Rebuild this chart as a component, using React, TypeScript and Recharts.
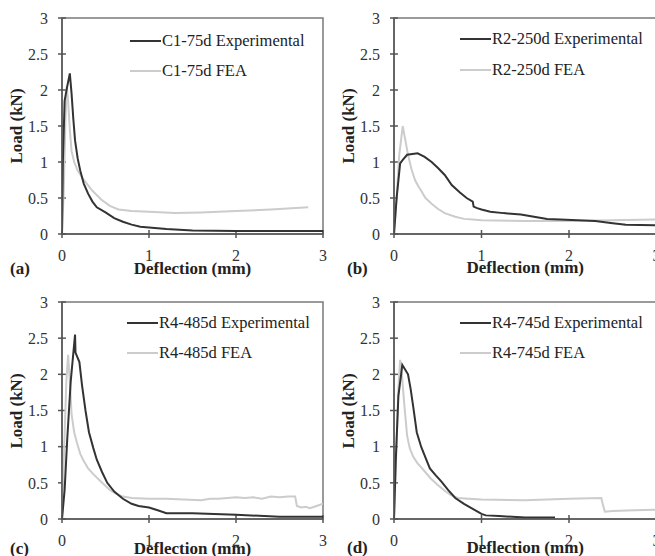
import React from 'react';
import { LineChart, Line, XAxis, YAxis, ReferenceArea, ReferenceLine } from 'recharts';

const FONT = '"Liberation Serif", "Times New Roman", serif';

const xTicks = [0, 1, 2, 3];
const yTicks = [0, 0.5, 1, 1.5, 2, 2.5, 3];

const seriesNames = {
  a: ['C1-75d Experimental', 'C1-75d FEA'],
  b: ['R2-250d Experimental', 'R2-250d FEA'],
  c: ['R4-485d Experimental', 'R4-485d FEA'],
  d: ['R4-745d Experimental', 'R4-745d FEA'],
};

// [deflection (mm), load (kN)]
const aExp = [[0,0],[0.01,1.0],[0.03,1.85],[0.06,2.05],[0.09,2.23],[0.11,1.95],[0.13,1.6],[0.15,1.3],[0.18,1.05],[0.21,0.88],[0.25,0.7],[0.3,0.56],[0.35,0.45],[0.4,0.37],[0.5,0.3],[0.6,0.22],[0.7,0.17],[0.8,0.13],[0.9,0.1],[1.0,0.09],[1.2,0.07],[1.5,0.05],[2.0,0.04],[2.5,0.04],[3.0,0.04]];
const aFea = [[0,0],[0.02,0.6],[0.04,1.6],[0.055,2.05],[0.07,1.85],[0.09,1.45],[0.11,1.15],[0.14,1.0],[0.18,0.88],[0.25,0.75],[0.35,0.6],[0.45,0.48],[0.55,0.39],[0.65,0.34],[0.8,0.32],[1.0,0.31],[1.3,0.29],[1.6,0.3],[2.0,0.32],[2.4,0.34],[2.83,0.37]];

const bExp = [[0,0],[0.03,0.5],[0.07,0.98],[0.1,1.03],[0.15,1.1],[0.27,1.12],[0.35,1.07],[0.43,1.0],[0.5,0.92],[0.58,0.82],[0.66,0.68],[0.75,0.58],[0.83,0.5],[0.9,0.45],[0.91,0.38],[0.95,0.36],[1.0,0.34],[1.1,0.31],[1.25,0.29],[1.45,0.27],[1.6,0.24],[1.75,0.21],[1.9,0.2],[2.1,0.19],[2.3,0.18],[2.5,0.15],[2.65,0.13],[3.0,0.12]];
const bFea = [[0,0],[0.03,0.5],[0.06,1.1],[0.1,1.5],[0.13,1.3],[0.16,1.1],[0.2,0.9],[0.24,0.75],[0.28,0.66],[0.31,0.6],[0.36,0.5],[0.43,0.42],[0.5,0.35],[0.58,0.29],[0.7,0.24],[0.8,0.21],[0.9,0.2],[1.0,0.19],[1.5,0.18],[2.0,0.18],[2.5,0.19],[3.0,0.2]];

const cExp = [[0,0],[0.03,0.4],[0.06,1.1],[0.1,1.9],[0.15,2.55],[0.155,2.3],[0.2,2.17],[0.23,1.85],[0.27,1.5],[0.31,1.2],[0.36,0.98],[0.4,0.82],[0.46,0.65],[0.52,0.5],[0.6,0.38],[0.7,0.28],[0.8,0.21],[0.88,0.18],[1.0,0.16],[1.1,0.12],[1.2,0.08],[1.5,0.08],[2.0,0.06],[2.5,0.03],[3.0,0.03]];
const cFea = [[0,0],[0.02,0.8],[0.05,1.9],[0.07,2.27],[0.09,1.9],[0.11,1.45],[0.14,1.2],[0.17,1.06],[0.21,0.9],[0.25,0.8],[0.3,0.7],[0.36,0.62],[0.42,0.55],[0.48,0.48],[0.55,0.4],[0.62,0.35],[0.7,0.31],[0.8,0.29],[1.0,0.28],[1.2,0.28],[1.4,0.27],[1.6,0.26],[1.7,0.28],[1.8,0.28],[1.9,0.29],[2.0,0.3],[2.1,0.29],[2.2,0.3],[2.3,0.28],[2.4,0.31],[2.5,0.3],[2.6,0.31],[2.68,0.31],[2.7,0.18],[2.75,0.16],[2.8,0.17],[2.85,0.15],[2.9,0.17],[2.95,0.19],[3.0,0.21]];

const dExp = [[0,0],[0.02,0.8],[0.05,1.7],[0.095,2.13],[0.12,2.08],[0.16,2.0],[0.19,1.8],[0.22,1.55],[0.26,1.2],[0.31,1.0],[0.36,0.85],[0.41,0.7],[0.48,0.6],[0.54,0.52],[0.62,0.4],[0.7,0.29],[0.8,0.21],[0.9,0.14],[1.0,0.07],[1.05,0.05],[1.2,0.04],[1.5,0.02],[1.84,0.02]];
const dFea = [[0,0],[0.02,0.7],[0.05,1.8],[0.07,2.2],[0.09,2.0],[0.12,1.55],[0.15,1.15],[0.18,0.98],[0.22,0.86],[0.27,0.77],[0.35,0.66],[0.42,0.56],[0.5,0.47],[0.58,0.39],[0.65,0.33],[0.73,0.29],[0.85,0.28],[1.0,0.27],[1.5,0.26],[2.0,0.28],[2.37,0.29],[2.38,0.23],[2.41,0.1],[2.5,0.11],[2.75,0.12],[3.0,0.13]];

const toRows = (pts: number[][]) => pts.map(([x, y]) => ({ x, y }));

const EXP_COLOR = '#333333';
const FEA_COLOR = '#cccccc';
const AXIS_COLOR = '#555555';

type PanelProps = {
  left: number; top: number; plotW: number; plotH: number;
  tag: string; names: string[]; exp: number[][]; fea: number[][];
  legendX: number; legendY1: number; legendY2: number;
  tagX: number; tagY: number; titleY: number;
};

function Panel(p: PanelProps) {
  const W = 330, H = 280;
  const margin = { top: 18, left: 22, right: W - 62 - p.plotW, bottom: H - 18 - p.plotH - 30 };
  const textStyle: React.CSSProperties = { position: 'absolute', fontFamily: FONT, whiteSpace: 'nowrap', lineHeight: 1, color: '#222' };
  return (
    <div style={{ position: 'absolute', left: p.left, top: p.top, width: W, height: H }}>
      <LineChart width={W} height={H} margin={margin}>
        <XAxis type="number" dataKey="x" domain={[0, 3]} ticks={xTicks} interval={0} height={30}
          tickSize={4} tickMargin={12}
          axisLine={{ stroke: AXIS_COLOR, strokeWidth: 1.5 }} tickLine={{ stroke: AXIS_COLOR, strokeWidth: 1.5 }}
          tick={{ fill: '#333', fontSize: 16, fontFamily: FONT }} allowDataOverflow />
        <YAxis type="number" domain={[0, 3]} ticks={yTicks} interval={0} width={40}
          tickSize={4} tickMargin={10}
          axisLine={{ stroke: AXIS_COLOR, strokeWidth: 1.5 }} tickLine={{ stroke: AXIS_COLOR, strokeWidth: 1.5 }}
          tick={{ fill: '#333', fontSize: 16, fontFamily: FONT }} allowDataOverflow />
        <ReferenceArea x1={0} x2={3} y1={0} y2={3} fill="none" stroke="#7a7a7a" strokeWidth={1.5} />
        {xTicks.map((v) => (
          <ReferenceLine key={'xt' + v} segment={[{ x: v, y: 0 }, { x: v, y: 0.055 }]} stroke={AXIS_COLOR} strokeWidth={1.5} />
        ))}
        {yTicks.map((v) => (
          <ReferenceLine key={'yt' + v} segment={[{ x: 0, y: v }, { x: 0.045, y: v }]} stroke={AXIS_COLOR} strokeWidth={1.5} />
        ))}
        <Line data={toRows(p.fea)} dataKey="y" type="linear" stroke={FEA_COLOR} strokeWidth={2} dot={false} isAnimationActive={false} />
        <Line data={toRows(p.exp)} dataKey="y" type="linear" stroke={EXP_COLOR} strokeWidth={2} dot={false} isAnimationActive={false} />
      </LineChart>
      <div style={{ position: 'absolute', left: p.legendX, top: p.legendY1 - 1, width: 31, height: 2, background: EXP_COLOR }} />
      <div style={{ ...textStyle, left: p.legendX + 32, top: p.legendY1, transform: 'translateY(-50%)', fontSize: 16.5 }}>{p.names[0]}</div>
      <div style={{ position: 'absolute', left: p.legendX, top: p.legendY2 - 1, width: 31, height: 2, background: FEA_COLOR }} />
      <div style={{ ...textStyle, left: p.legendX + 32, top: p.legendY2, transform: 'translateY(-50%)', fontSize: 16.5 }}>{p.names[1]}</div>
      <div style={{ ...textStyle, left: 62 + p.plotW / 2, top: p.titleY, transform: 'translate(-50%,-50%)', fontSize: 17, fontWeight: 'bold' }}>Deflection (mm)</div>
      <div style={{ ...textStyle, left: 16, top: 18 + p.plotH / 2, transform: 'translate(-50%,-50%) rotate(-90deg)', fontSize: 17, fontWeight: 'bold' }}>Load (kN)</div>
      <div style={{ ...textStyle, left: p.tagX, top: p.tagY, transform: 'translateY(-50%)', fontSize: 17, fontWeight: 'bold' }}>{p.tag}</div>
    </div>
  );
}

export default function App() {
  return (
    <div style={{ position: 'absolute', left: 0, top: 0, width: 655, height: 556, overflow: 'hidden', background: '#fff' }}>
      <Panel left={0} top={0} plotW={261} plotH={216} tag="(a)" names={seriesNames.a} exp={aExp} fea={aFea}
        legendX={130} legendY1={41} legendY2={71} tagX={10} tagY={268} titleY={268} />
      <Panel left={332} top={0} plotW={262.5} plotH={216} tag="(b)" names={seriesNames.b} exp={bExp} fea={bFea}
        legendX={128} legendY1={39} legendY2={70} tagX={15} tagY={268} titleY={267} />
      <Panel left={0} top={284} plotW={261} plotH={217} tag="(c)" names={seriesNames.c} exp={cExp} fea={cFea}
        legendX={127} legendY1={39} legendY2={69} tagX={10} tagY={264} titleY={264} />
      <Panel left={332} top={284} plotW={262.5} plotH={217} tag="(d)" names={seriesNames.d} exp={dExp} fea={dFea}
        legendX={128} legendY1={39} legendY2={69} tagX={15} tagY={263} titleY={263} />
    </div>
  );
}
